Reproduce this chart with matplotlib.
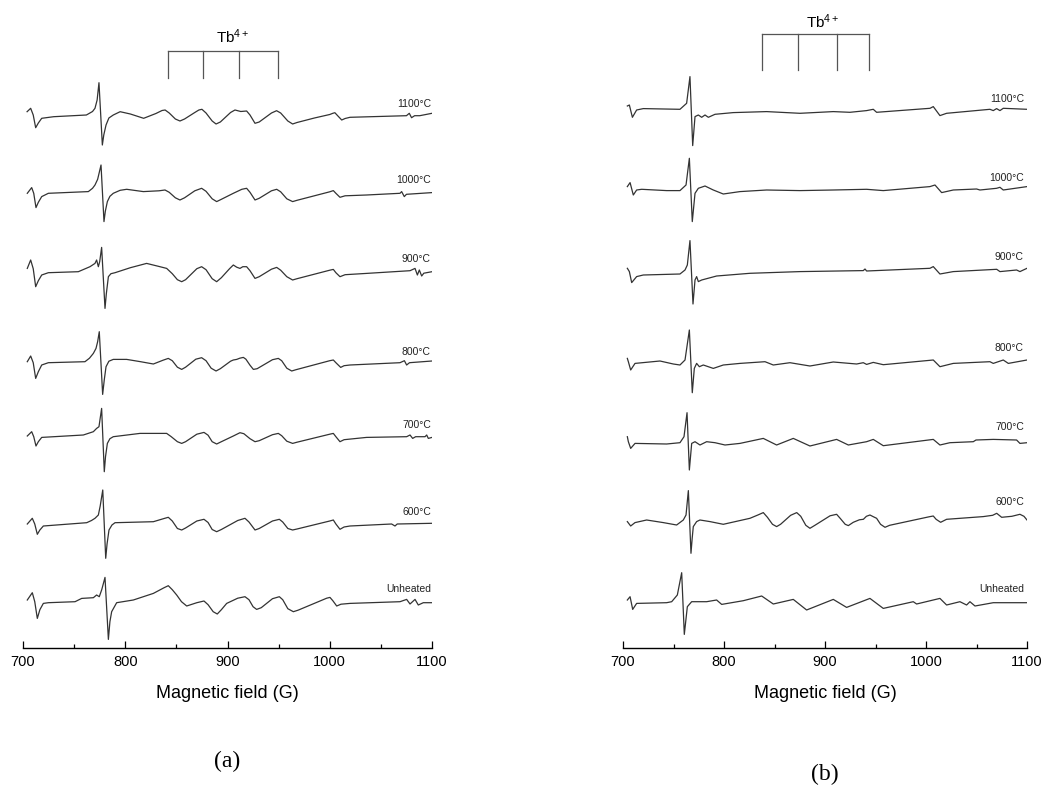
import matplotlib.pyplot as plt

plt.rcParams['font.family'] = ['Liberation Sans', 'DejaVu Sans']
plt.rcParams['mathtext.default'] = 'regular'

labels = ['1100°C', '1000°C', '900°C', '800°C', '700°C', '600°C', 'Unheated']

# ---- panel (a): field (G) and signal (a.u.) ----
a_1100_B = [704, 707.5, 710, 712.4, 715, 718.3, 730, 762, 768, 770.4, 772.5, 774.3, 777.6, 779, 781.2, 784, 788.3,
            795, 805, 818, 830, 836, 839, 843, 849, 853.5, 858, 868, 872, 875, 879, 885, 888.8, 893, 903, 907.3,
            913, 918.7, 922, 926.9, 931, 943, 948, 952, 959, 963.7, 968, 985, 1000, 1003, 1005, 1008, 1011.7,
            1015, 1019.8, 1075, 1077.8, 1080, 1083, 1088, 1100]
a_1100_I = [3.3, 6.7, 0, -12.7, -8, -3.3, -1.7, 0, 3.5, 6.7, 15, 32.3, -30, -20, -10, -3, 0,
            3.3, 1, -3.3, 1.5, 4.5, 5, 2, -4, -6, -4, 2.5, 5, 5.7, 2, -6, -9, -7, 2.5, 5,
            3.5, 4, 0, -8.3, -7, 2, 4.3, 2, -6, -9, -7.5, -3, 0.5, 1.7, 2.3, -1, -5,
            -3.5, -2.3, -0.7, 1.7, -2.7, -0.7, -0.7, 1.7]

a_1000_B = [704.2, 708.5, 710.5, 712.7, 715, 718.3, 724.8, 763.9, 768, 770.4, 773, 776.3, 779.2, 780.5, 782.5,
            785, 788.3, 795, 801.4, 817.7, 833, 838.9, 843, 849, 853.5, 858, 868, 874.7, 879, 885, 889.4, 894,
            905.7, 914, 918.7, 922, 926.9, 931, 943, 948.1, 952, 958, 963.7, 968, 1000, 1003.5, 1006, 1010,
            1015, 1036, 1068.7, 1070.3, 1072.9, 1075, 1100]
a_1000_I = [0, 5.7, 0, -14.3, -9, -3.3, 0, 1.7, 5, 8.3, 14, 28.3, -28.3, -18, -8.3,
            -3, 0, 3, 4, 1.7, 2.5, 3.3, 1, -4.5, -6.7, -4.5, 2.5, 5, 2, -5.5, -8.3, -6,
            0, 4, 5, 1, -6.7, -5, 2.5, 4, 1.5, -5.5, -8.3, -7, 1.5, 2.7, 0, -4,
            -2.5, -1.7, 0, 1.7, -3.3, -1, 0.7]

a_900_B = [704.2, 707.5, 710, 712.4, 715, 718.3, 724.8, 754.1, 765.5, 770.4, 772, 773.7, 775, 776.9, 780.2,
           781.5, 783.5, 786, 790, 805, 820.9, 832, 840.5, 846, 851, 855.2, 859, 870, 874.7, 879, 885, 889.4,
           894, 902, 905.7, 909, 912.2, 915, 918.7, 922, 926.9, 931, 943, 948.1, 952, 958, 963.7, 968, 1000,
           1003.5, 1006, 1010, 1015, 1036, 1078.5, 1083.4, 1085.7, 1087.6, 1089.9, 1092, 1100]
a_900_I = [3.3, 11.7, 3, -15, -9, -3.3, -1, 0, 5, 8.3, 11.7, 5, 10, 24.3, -36.7,
           -22, -5, -2, -1, 4, 8.3, 5.5, 3.3, -2, -8, -10, -8, 3, 5, 2, -7, -10,
           -6, 3, 6.7, 4.5, 3.3, 5, 5, 1, -6.7, -5, 2.5, 4.3, 1.5, -5, -8.3, -7, 1.5,
           2.3, -1, -5, -3, -1.7, 1, 3.3, -3.3, 1.7, -4.3, -1.5, 0]

a_800_B = [704.2, 707.5, 710, 712.4, 715, 718.3, 724.8, 760.6, 765, 768.8, 771.4, 773, 774.6, 777.9, 779.5,
           781.2, 784, 788.3, 801.4, 815, 827.5, 837, 842.1, 846, 851, 855.2, 859, 869, 874.7, 879, 884,
           888.8, 893, 903, 905.7, 909, 912, 915.5, 918, 922, 925.3, 929, 944, 949.7, 953, 958, 962.8, 967,
           1000, 1003.5, 1006, 1010.7, 1014, 1019.8, 1068.7, 1073, 1075.2, 1078, 1100]
a_800_I = [0, 5.7, -1, -16.7, -10, -3.3, -1, 0, 3.5, 8.3, 13.3, 20, 30, -32.7, -18,
           -5, 0.5, 2.3, 2.3, 0, -2.3, 1.5, 3.3, 1, -5.5, -7.7, -5.5, 2.5, 4, 1, -6.5,
           -9.3, -7, 0.5, 1.7, 2.3, 3.5, 4.3, 2.5, -3.5, -7.7, -7, 2, 3.3, 1, -6.5, -9.3, -8,
           1, 1.7, -1, -5.7, -4, -3.3, -1, 1, -3.3, -1, 0.7]

a_700_B = [704.2, 708.5, 710.5, 712.7, 715, 718.3, 759, 768.8, 772, 774.3, 776.9, 779.5, 780.7, 782.5, 785,
           788.3, 814.4, 840.5, 845, 851, 855.2, 859, 870, 877, 881, 885, 889.4, 894, 905.7, 912.2, 916,
           922, 926.9, 931, 944, 949.7, 953, 958, 963.7, 968, 1000, 1003.5, 1006, 1010, 1014, 1036, 1075.2,
           1078.5, 1081.1, 1084, 1093.2, 1094.8, 1096.4, 1100]
a_700_I = [0.7, 5, 0, -9.3, -5, -0.7, 1.7, 5, 8.3, 10, 28.3, -35, -20, -6.7, -2,
           0, 3.3, 3.3, 0, -5, -6.7, -5, 2.5, 4.3, 1.5, -5, -7.3, -5, 0.7, 4, 3,
           -2, -5, -4, 2, 3.3, 1, -4.5, -6.7, -5.5, 2.5, 3.3, 0, -5, -3, -0.7, 0,
           1.7, -1.7, 0, 0, 1.7, -1.7, -0.7]

a_600_B = [704.2, 709.1, 711.5, 714, 716.5, 719.9, 762.3, 767, 770.4, 773.7, 775.5, 778, 780.9, 782.2, 784.1,
           787, 790, 827.5, 838, 842.1, 846, 851, 855.2, 859, 870, 877, 881, 885, 889.4, 894, 910, 917.1,
           921, 926.9, 931, 944, 950.7, 954, 959, 963.7, 968, 1000, 1003.5, 1006, 1010, 1014, 1019.8,
           1060.5, 1063.8, 1066, 1100]
a_600_I = [0, 5.7, 0, -10.3, -6, -2, 1.3, 3.5, 5.7, 9, 18, 34, -34.3, -20, -6,
           -1, 1.3, 2.3, 5.5, 6.7, 3, -4.5, -6, -4, 3, 4.7, 1.5, -5.5, -7.7, -5.5, 3.5, 5.7,
           2, -6, -4.5, 3, 4.7, 2, -4.5, -6, -5, 3, 4, 0, -5.3, -3, -2,
           0, -2, 0, 0.7]

a_unh_B = [704.2, 709.1, 711.5, 714, 716.5, 719.9, 724.8, 750.9, 757.4, 768.8, 772, 774.6, 777, 780.2, 783.5,
           785, 786.7, 791.6, 807.9, 827.5, 838, 842.1, 846, 850.3, 855, 860.1, 870, 877, 881, 886, 890,
           894, 899.2, 910, 917.1, 921, 925, 928.5, 933, 944, 950.7, 954, 959, 964.4, 969, 997, 1000.2,
           1003, 1006.8, 1011, 1019.8, 1068.7, 1075.2, 1078.5, 1083.4, 1086.6, 1091.5, 1100]
a_unh_I = [1.7, 9, 0, -16.7, -8, -1.7, -1, 0, 3.3, 4, 6.7, 5, 12, 24.3, -37.7,
           -20, -10, -1, 1.7, 8.3, 14, 16, 12, 6.7, 0, -4.3, -1, 0.7, -3, -10, -12.3,
           -8, -1.7, 3.5, 5, 2, -5, -7.7, -6, 3, 5, 2, -7, -10, -8.5, 3.5, 4.3,
           1, -4.3, -2.5, -1.7, 0, 2.3, -2.3, 2.3, -3.3, -1, -1]

# ---- panel (b) ----
b_1100_B = [704.3, 706.3, 709.3, 713.5, 720.1, 756.4, 763.0, 766.3, 769, 771.3, 774.6, 777.9, 781.2, 784.5, 791.1,
            809.2, 842.2, 875.2, 908.2, 924.7, 941.2, 947.8, 951.1, 1004, 1007.2, 1013.8, 1020.4, 1063.3, 1066.6,
            1069.9, 1073.2, 1076.5, 1100]
b_1100_I = [3.3, 4.3, -8, -0.7, 0.7, 0, 6, 32.7, -36.3, -7.3, -5.7, -8, -5.7, -8, -5,
            -3.3, -2.3, -4, -2.3, -3, -1.3, 0, -3, 1, 2.7, -6.3, -4, 0, -1.3,
            0.7, -1.3, 1, 0]

b_1000_B = [704.3, 707, 710.2, 713.5, 718.5, 743.2, 756.4, 762.4, 765.7, 768.6, 771.3, 774.6, 781.2, 789.4, 799.3,
            815.8, 842.2, 875.2, 908.2, 941.2, 957.7, 1003.9, 1008.9, 1015.5, 1027, 1050.1, 1053.4, 1069.9, 1073.2,
            1076.5, 1100]
b_1000_I = [1.7, 5.7, -6.7, -1.7, -1, -2.3, -2.3, 3.3, 30, -33.3, -5, 0, 2.3, -1.7, -5.7,
            -3.3, -1.7, -2.3, -1.7, -1, -2.3, 1.7, 3.3, -4.3, -1.7, -0.7, -1.7, 0, 1,
            -1.7, 1.7]

b_900_B = [704.3, 706.3, 708.6, 713.5, 720.1, 756.4, 761.4, 763.7, 766.3, 769.3, 771.3, 772.9, 774.6, 777.9, 792.7,
           825.7, 875.2, 937.9, 939.6, 941.2, 1003.9, 1007.2, 1013.8, 1027, 1070, 1073.2, 1089.7, 1093, 1100]
b_900_I = [5, 1.7, -9.3, -3.3, -1.7, -0.7, 3.3, 8.3, 32.7, -30.7, -6.7, -3.3, -8.3, -6.7, -2.7,
           0, 1.7, 2.7, 4.3, 2.3, 5, 6.7, -0.7, 1.7, 4, 1.7, 3.3, 1.7, 5]

b_800_B = [704.3, 705.3, 707.6, 711.9, 736.6, 749.8, 756.4, 761.4, 765.7, 768.6, 770.6, 772.9, 775.6, 779.5, 789.4,
           799.3, 815.8, 840.6, 848.8, 865.3, 885.1, 908.2, 931.3, 937.9, 941.2, 947.8, 957.7, 1007.2, 1013.8,
           1027, 1063.3, 1066.6, 1076.5, 1081.5, 1100]
b_800_I = [3.3, 0, -8.3, -1.7, 0.7, -2.3, -3.3, 1.7, 31.7, -31, -6.7, -1.7, -5, -3.3, -6.7,
           -3.3, -1.7, 0, -3.3, -1, -4.3, -0.3, -2.3, -1, -2.7, -0.7, -3, 1.7, -5,
           -1.7, 0, -1.7, 1.7, -1.7, 1.7]

b_700_B = [704.3, 705.3, 707.6, 711.9, 743.2, 756.4, 760.4, 763.4, 765.7, 768, 771.3, 776.2, 782.8, 791.1, 801,
           815.8, 838.9, 852.1, 868.6, 885.1, 911.5, 923.1, 941.2, 947.8, 957.7, 1007.2, 1013.8, 1023.7, 1046.8,
           1049.5, 1066.6, 1089.7, 1093, 1100]
b_700_I = [6, 1, -5.7, -0.7, -1.3, 0, 6, 30, -27.3, -0.7, 1, -2.3, 1, 0, -2.3,
           -0.7, 4.3, -2.3, 4.3, -3.3, 3.3, -2.3, 1, 3.3, -3, 3.3, -2.3, 0, 1,
           2.7, 3.3, 2.7, -0.7, 0]

b_600_B = [704.3, 707.6, 711.9, 723.4, 739.9, 753.1, 759.7, 762.4, 764.7, 767.3, 768.5, 769.6, 772.9, 776.2, 786.1,
           799.3, 825.7, 834, 838.9, 843, 848, 852.1, 856, 866, 872, 876, 881, 885.1, 890, 905, 911.5, 915,
           920, 923.1, 928, 934, 938, 941, 944.5, 948, 951.1, 955, 959.4, 964, 1003, 1007.2, 1010, 1014.5,
           1020.4, 1056.7, 1066, 1070, 1074.9, 1085, 1093, 1097, 1100]
b_600_I = [1.7, -2.7, 0.7, 3.3, 0.7, -1.7, 3.3, 8.3, 32.7, -30, -15, -3.3, 1.7, 3.3, 1.7,
           -1, 5, 8.5, 10.7, 6, -1, -3.3, -1, 8, 10.7, 7, -2, -5, -2, 7.5, 9, 5,
           -1, -2.3, 1, 3.5, 4, 7, 8.3, 6.5, 5, -1, -4, -2, 6.5, 7.3, 4, 1,
           4, 6.7, 8, 10, 6, 7, 9, 7, 3.3]

b_unh_B = [704.3, 707, 709.6, 713.5, 743.2, 748.2, 753.8, 758.1, 760.7, 763.7, 768, 782.8, 792.7, 797.7, 819.1,
           837.3, 848.8, 868.6, 881.8, 908.2, 921.4, 944.5, 957.7, 987.4, 990.7, 1013.8, 1020.4, 1033.6, 1040.2,
           1043.5, 1048.5, 1066.6, 1100]
b_unh_I = [2.7, 6, -6.7, -0.7, 0, 1, 7.7, 30, -31.7, -4, 1, 1, 2.7, -1.7, 2,
           6.7, -1.3, 3.3, -7.3, 3.3, -4.7, 4.3, -5.7, 1, -1.3, 4.3, -2.3, 1, -2.3,
           1, -3.3, 0, 0]

# Tb4+ hyperfine marker positions (G)
tb_a = [842, 876.4, 911.6, 949]
tb_b = [837.6, 873, 911.6, 943.9]

a_fields = [a_1100_B, a_1000_B, a_900_B, a_800_B, a_700_B, a_600_B, a_unh_B]
a_signal = [a_1100_I, a_1000_I, a_900_I, a_800_I, a_700_I, a_600_I, a_unh_I]
b_fields = [b_1100_B, b_1000_B, b_900_B, b_800_B, b_700_B, b_600_B, b_unh_B]
b_signal = [b_1100_I, b_1000_I, b_900_I, b_800_I, b_700_I, b_600_I, b_unh_I]

# layout (vertical stacking, measured from the axis line upward)
H = 648
base_a = [H - y for y in [115, 193.3, 271.7, 361.7, 436.7, 524, 601.7]]
base_b = [H - y for y in [109.3, 188.3, 273.3, 361.7, 442.7, 523.3, 602.7]]
lab_a = [H - y for y in [104, 180, 259, 352, 425, 512, 589]]
lab_b = [H - y for y in [99, 178, 257, 348, 427, 502, 589]]

col = '#333333'
fig = plt.figure(figsize=(10.46, 7.86), dpi=100)

panels = [
    (23, 409, a_fields, a_signal, base_a, lab_a, 1099, tb_a, (H - 50.7, H - 77.7), (905, H - 43.5), '(a)', 761),
    (623, 404, b_fields, b_signal, base_b, lab_b, 1097, tb_b, (H - 34.3, H - 70), (898, H - 27.7), '(b)', 774),
]

for left, width, fields, signal, bases, labpos, labx, tb, (ytop, ybot), tbtxt, tag, tagy in panels:
    ax = fig.add_axes([left / 1046, (786 - H) / 786, width / 1046, H / 786])
    for B, I, off, ly, lab in zip(fields, signal, bases, labpos, labels):
        ax.plot(B, [off + v for v in I], color=col, lw=0.9)
        ax.text(labx, ly, lab, ha='right', va='center', fontsize=7.5, color='#222222')

    # Tb4+ stick diagram
    ax.plot([tb[0], tb[-1]], [ytop, ytop], color='#555555', lw=0.9)
    for x in tb:
        ax.plot([x, x], [ytop, ybot], color='#555555', lw=0.9)
    ax.text(tbtxt[0], tbtxt[1], 'Tb$^{4+}$', ha='center', va='baseline', fontsize=11)

    ax.set_xlim(700, 1100)
    ax.set_ylim(0, H)
    ax.set_xticks(range(700, 1101, 100))
    ax.set_xticks(range(750, 1100, 100), minor=True)
    ax.tick_params(axis='x', which='major', direction='in', length=5, width=0.9, labelsize=10.5, pad=5)
    ax.tick_params(axis='x', which='minor', direction='in', length=3, width=0.9)
    ax.set_yticks([])
    for s in ['left', 'right', 'top']:
        ax.spines[s].set_visible(False)
    ax.spines['bottom'].set_linewidth(1.0)
    ax.patch.set_alpha(0)

    cx = (left + width / 2) / 1046
    fig.text(cx, 1 - 693 / 786, 'Magnetic field (G)', ha='center', va='center', fontsize=13)
    fig.text(cx, 1 - tagy / 786, tag, ha='center', va='center', fontsize=17, family='Liberation Serif')

fig.savefig('out.png', dpi=100)
